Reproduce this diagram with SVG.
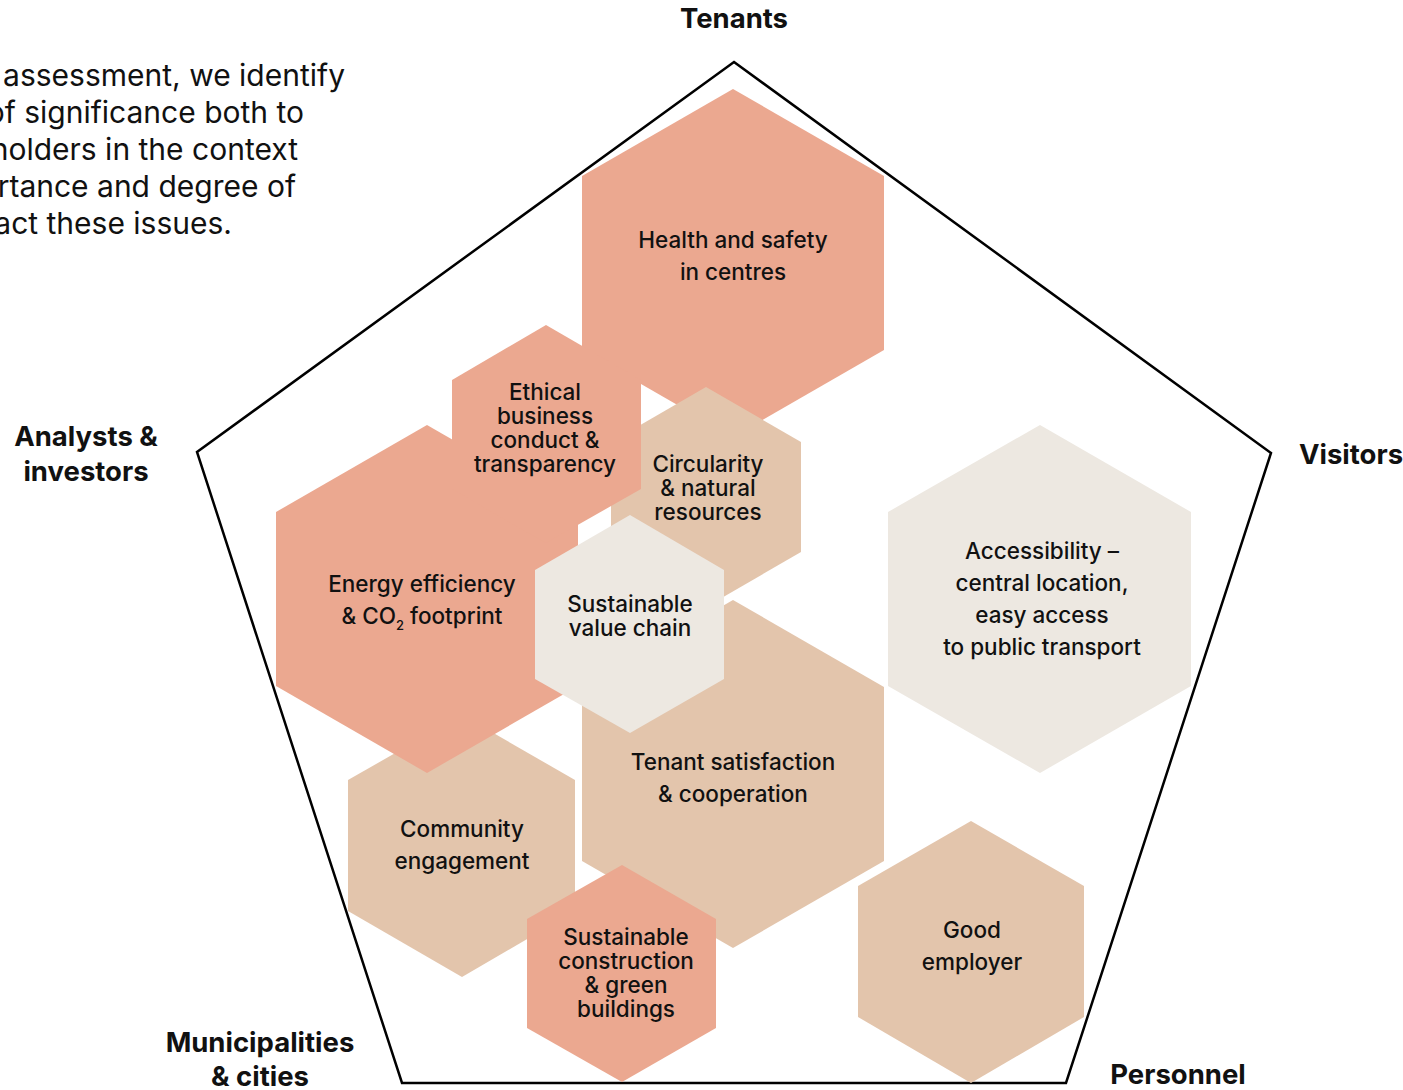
<svg xmlns="http://www.w3.org/2000/svg" width="1403" height="1090" viewBox="0 0 1403 1090">
<style>
.s{fill:#EBA890}.b{fill:#E3C5AC}.l{fill:#EDE8E1}
text{font-family:Inter,"Liberation Sans",sans-serif;fill:#111;}
.t{font-size:22.5px;font-weight:500;text-anchor:middle}
.h{font-size:27.5px;font-weight:700;text-anchor:middle}
.i{font-size:30px;text-anchor:end}
</style>
<rect width="1403" height="1090" fill="#fff"/>
<g id="intro">
<text class="i" x="345" y="86">assessment, we identify</text>
<text class="i" x="304" y="123">of significance both to</text>
<text class="i" x="298" y="160">holders in the context</text>
<text class="i" x="296" y="197">rtance and degree of</text>
<text class="i" x="232" y="234">act these issues.</text>
</g>
<g id="connectors">
<polygon points="734,62 1271,453 1066,1083 402,1083 197,452" fill="none" stroke="#000" stroke-width="2.5" stroke-linejoin="miter"/>
</g>
<g id="stakeholders">
<text class="h" x="734" y="28">Tenants</text>
<text class="h" x="1351" y="464">Visitors</text>
<text class="h" x="86" y="446">Analysts &amp;</text>
<text class="h" x="86" y="481">investors</text>
<text class="h" x="260" y="1052">Municipalities</text>
<text class="h" x="260" y="1086">&amp; cities</text>
<text class="h" x="1178" y="1084">Personnel</text>
</g>
<g id="health"><polygon class="s" points="733,89 884,176 884,350 733,437 582,350 582,176"/>
<text class="t" x="733" y="248">Health and safety</text><text class="t" x="733" y="280">in centres</text></g>
<g id="circularity"><polygon class="b" points="706,387 801,442 801,552 706,607 611,552 611,442"/>
<text class="t" x="708" y="472">Circularity</text><text class="t" x="708" y="496">&amp; natural</text><text class="t" x="708" y="520">resources</text></g>
<g id="community"><polygon class="b" points="462,715 575,780 575,911 462,977 348,911 348,780"/>
<text class="t" x="462" y="837">Community</text><text class="t" x="462" y="869">engagement</text></g>
<g id="energy"><polygon class="s" points="427,425 578,512 578,686 427,773 276,686 276,512"/>
<text class="t" x="422" y="592">Energy efficiency</text><text class="t" x="422" y="624">&amp; CO<tspan font-size="13" dy="6">2</tspan><tspan dy="-6"> footprint</tspan></text></g>
<g id="ethical"><polygon class="s" points="546,325 641,380 641,489 546,543 452,489 452,380"/>
<text class="t" x="545" y="400">Ethical</text><text class="t" x="545" y="424">business</text><text class="t" x="545" y="448">conduct &amp;</text><text class="t" x="545" y="472">transparency</text></g>
<g id="tenant"><polygon class="b" points="733,600 884,687 884,861 733,948 582,861 582,687"/>
<text class="t" x="733" y="770">Tenant satisfaction</text><text class="t" x="733" y="802">&amp; cooperation</text></g>
<g id="valuechain"><polygon class="l" points="630,515 724,570 724,679 630,733 535,679 535,570"/>
<text class="t" x="630" y="612">Sustainable</text><text class="t" x="630" y="636">value chain</text></g>
<g id="accessibility"><polygon class="l" points="1040,425 1191,512 1191,686 1040,773 888,686 888,512"/>
<text class="t" x="1042" y="559">Accessibility –</text><text class="t" x="1042" y="591">central location,</text><text class="t" x="1042" y="623">easy access</text><text class="t" x="1042" y="655">to public transport</text></g>
<g id="construction"><polygon class="s" points="622,865 716,919 716,1028 622,1082 527,1028 527,919"/>
<text class="t" x="626" y="945">Sustainable</text><text class="t" x="626" y="969">construction</text><text class="t" x="626" y="993">&amp; green</text><text class="t" x="626" y="1017">buildings</text></g>
<g id="employer"><polygon class="b" points="971,821 1084,886 1084,1017 971,1083 858,1017 858,886"/>
<text class="t" x="972" y="938">Good</text><text class="t" x="972" y="970">employer</text></g>
</svg>
